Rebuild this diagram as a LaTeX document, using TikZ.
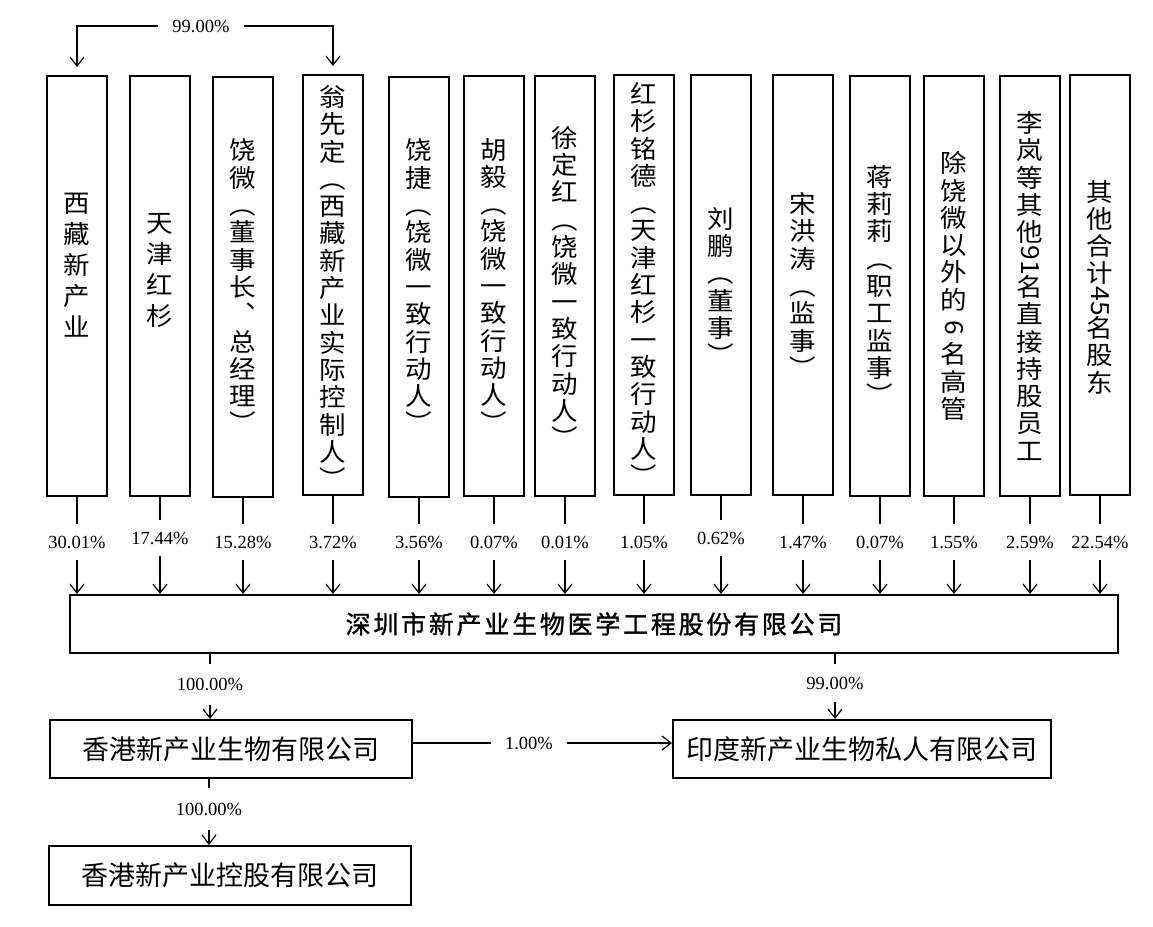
\documentclass[tikz,border=0pt]{standalone}
\usepackage{fontspec}
\usepackage{graphicx}
\usetikzlibrary{arrows.meta}
\setmainfont{Liberation Serif}
\newfontfamily\cjk{Noto Sans CJK SC}
\newfontfamily\cjkwide{Noto Sans CJK SC}[FakeStretch=1.06]
\newfontfamily\cjktitle{Noto Sans CJK SC}[LetterSpace=11,FakeBold=1.2]
\newcommand\rdig[1]{\rotatebox[origin=c]{-90}{#1}}
\begin{document}
\begin{tikzpicture}[x=1pt,y=-1pt,
  box/.style={draw, line width=2pt, inner sep=0pt},
  vbox/.style={box, minimum width=60pt, minimum height=420pt},
  vtext/.style={align=center, inner sep=0pt, font=\cjkwide\fontsize{25}{27.3}\selectfont},
  hbox/.style={box, font=\cjk\fontsize{27}{30}\selectfont},
  pct/.style={font=\fontsize{18.5}{21}\selectfont, inner sep=0pt, minimum height=36pt},
  conn/.style={line width=1.2pt},
  arr/.style={conn, -{Straight Barb[length=9pt,width=14pt]}}]
\fill[white] (0,0) rectangle (1153,926);
\useasboundingbox (0,0) rectangle (1153,926);

% shareholder boxes
\node[vbox] (b1) at (77,286) {};
\node[vbox] (b2) at (160,286) {};
\node[vbox] (b3) at (243,287) {};
\node[vbox] (b4) at (333,285) {};
\node[vbox] (b5) at (419,287) {};
\node[vbox] (b6) at (494,286) {};
\node[vbox] (b7) at (565,286) {};
\node[vbox] (b8) at (644,285) {};
\node[vbox] (b9) at (721,285) {};
\node[vbox] (b10) at (803,285) {};
\node[vbox] (b11) at (880,286) {};
\node[vbox] (b12) at (954,286) {};
\node[vbox] (b13) at (1030,286) {};
\node[vbox] (b14) at (1100,285) {};

% vertical texts
\node[vtext, font=\cjkwide\fontsize{25}{31}\selectfont] (t1) at (77,265) {西\\藏\\新\\产\\业};
\node[vtext, font=\cjkwide\fontsize{25}{31}\selectfont] (t2) at (160,270) {天\\津\\红\\杉};
\node[vtext] (t3) at (243,286) {饶\\微\\︵\\董\\事\\长\\︑\\总\\经\\理\\︶};
\node[vtext] (t4) at (333,287) {翁\\先\\定\\︵\\西\\藏\\新\\产\\业\\实\\际\\控\\制\\人\\︶};
\node[vtext] (t5) at (419,286) {饶\\捷\\︵\\饶\\微\\一\\致\\行\\动\\人\\︶};
\node[vtext] (t6) at (494,285) {胡\\毅\\︵\\饶\\微\\一\\致\\行\\动\\人\\︶};
\node[vtext] (t7) at (565,287) {徐\\定\\红\\︵\\饶\\微\\一\\致\\行\\动\\人\\︶};
\node[vtext] (t8) at (644,284) {红\\杉\\铭\\德\\︵\\天\\津\\红\\杉\\一\\致\\行\\动\\人\\︶};
\node[vtext] (t9) at (721,286) {刘\\鹏\\︵\\董\\事\\︶};
\node[vtext] (t10) at (803,285) {宋\\洪\\涛\\︵\\监\\事\\︶};
\node[vtext] (t11) at (880,285) {蒋\\莉\\莉\\︵\\职\\工\\监\\事\\︶};
\node[vtext] (t12) at (954,286) {除\\饶\\微\\以\\外\\的\\\rdig{6}\\名\\高\\管};
\node[vtext] (t13) at (1030,286) {李\\岚\\等\\其\\他\\\rdig{91}\\名\\直\\接\\持\\股\\员\\工};
\node[vtext] (t14) at (1100,287) {其\\他\\合\\计\\\rdig{45}\\名\\股\\东};

% main company
\node[box, minimum width=1048pt, minimum height=58pt, font=\cjktitle\fontsize{25}{30}\selectfont] (m) at (594,624) {深圳市新产业生物医学工程股份有限公司};

% percentage labels
\coordinate (pl) at (0,542);
\node[pct] (p1) at (b1.south |- pl) {30.01\%};
\node[pct] (p2) at ([yshift=4pt]b2.south |- pl) {17.44\%};
\node[pct] (p3) at (b3.south |- pl) {15.28\%};
\node[pct] (p4) at (b4.south |- pl) {3.72\%};
\node[pct] (p5) at (b5.south |- pl) {3.56\%};
\node[pct] (p6) at (b6.south |- pl) {0.07\%};
\node[pct] (p7) at (b7.south |- pl) {0.01\%};
\node[pct] (p8) at (b8.south |- pl) {1.05\%};
\node[pct] (p9) at ([yshift=4pt]b9.south |- pl) {0.62\%};
\node[pct] (p10) at (b10.south |- pl) {1.47\%};
\node[pct] (p11) at (b11.south |- pl) {0.07\%};
\node[pct] (p12) at (b12.south |- pl) {1.55\%};
\node[pct] (p13) at (b13.south |- pl) {2.59\%};
\node[pct] (p14) at (b14.south |- pl) {22.54\%};

\foreach \i in {1,...,14}{
  \draw[conn] (b\i.south) -- (b\i.south |- p\i.north);
  \draw[arr] (b\i.south |- p\i.south) -- (b\i.south |- m.north);
}

% top 99% link
\node[pct, minimum height=0pt, inner xsep=14pt] (q0) at (201,26) {99.00\%};
\draw[arr, shorten >=8pt] (q0.west) -| (b1.north);
\draw[arr, shorten >=8pt] (q0.east) -| (b4.north);

% subsidiaries
\node[hbox, minimum width=362pt, minimum height=58pt] (h1) at (231,749) {香港新产业生物有限公司};
\node[hbox, minimum width=362pt, minimum height=59pt] (h2) at (230,875.5) {香港新产业控股有限公司};
\node[hbox, minimum width=378pt, minimum height=58pt] (i1) at (862,749) {印度新产业生物私人有限公司};

\node[pct, minimum height=41pt] (q1) at (210,684.5) {100.00\%};
\draw[conn] (q1.north |- m.south) -- (q1.north);
\draw[arr] (q1.south) -- (q1.south |- h1.north);

\node[pct, minimum height=38pt] (q2) at (835,683) {99.00\%};
\draw[conn] (q2.north |- m.south) -- (q2.north);
\draw[arr] (q2.south) -- (q2.south |- i1.north);

\node[pct, minimum height=0pt, inner xsep=14pt] (q3) at (529,743) {1.00\%};
\draw[conn] (h1.east |- q3) -- (q3.west);
\draw[arr] (q3.east) -- (q3.east -| i1.west);

\node[pct, minimum height=42pt] (q4) at (209,809) {100.00\%};
\draw[conn] (q4.north |- h1.south) -- (q4.north);
\draw[arr] (q4.south) -- (q4.south |- h2.north);
\end{tikzpicture}
\end{document}
